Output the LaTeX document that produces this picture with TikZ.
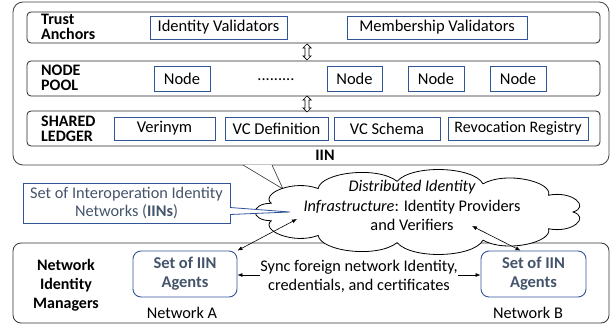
\documentclass[tikz,border=0pt]{standalone}
\usepackage{fontspec}
\setmainfont{Carlito}
\usetikzlibrary{arrows.meta}
\definecolor{bluebd}{HTML}{2F5597}
\definecolor{bluetx}{HTML}{44546A}
\tikzset{
  rowbox/.style={draw=black!85, line width=0.8pt, rounded corners=4pt},
  itembox/.style={draw=bluebd, line width=0.8pt, font=\fontsize{16.5}{17}\selectfont, inner sep=0pt, anchor=center},
  rowlabel/.style={font=\bfseries\fontsize{16}{15}\selectfont, align=left, anchor=west, inner sep=0pt},
  agent/.style={draw=bluebd, line width=0.9pt, rounded corners=8pt, font=\bfseries\fontsize{16.5}{19}\selectfont, text=bluetx, align=center, inner sep=0pt},
  plain/.style={font=\fontsize{16.3}{19}\selectfont, inner sep=0pt, align=center},
  dbl/.style={{Latex[length=5pt,width=4pt]}-{Latex[length=5pt,width=4pt]}, line width=0.6pt},
}
\begin{document}
\begin{tikzpicture}[x=1pt,y=-1pt]
\useasboundingbox (0,0) rectangle (615,331);
% outer IIN box
\draw[line width=0.8pt, draw=black!75, rounded corners=10pt] (13,2) rectangle (609,165);
\node[font=\bfseries\fontsize{16}{16}\selectfont, inner sep=0pt] (iin) at (325,155.5) {IIN};
% rows
\draw[rowbox] (27,12) rectangle (600,43);
\draw[rowbox] (27,61) rectangle (600,96);
\draw[rowbox] (27,111) rectangle (600,146);
\node[rowlabel] (ta) at (41,27) {Trust\\Anchors};
\node[rowlabel] (np) at (41,78) {NODE\\POOL};
\node[rowlabel] (sl) at (41,128.5) {SHARED\\LEDGER};
% trust anchors items
\node[itembox, minimum width=137pt, minimum height=23pt] (iv) at (218.5,27.5) {Identity Validators};
\node[itembox, minimum width=180pt, minimum height=23pt] (mv) at (437,27.5) {Membership Validators};
% node pool
\node[itembox, minimum width=56pt, minimum height=25pt] (n1) at (182,78.5) {Node};
\node[plain] (dots) at (276,79.5) {.........};
\node[itembox, minimum width=55pt, minimum height=25pt] (n2) at (354.5,78.5) {Node};
\node[itembox, minimum width=56pt, minimum height=25pt] (n3) at (436,78.5) {Node};
\node[itembox, minimum width=56pt, minimum height=25pt] (n4) at (518,78.5) {Node};
% shared ledger
\node[itembox, minimum width=101pt, minimum height=23pt] (ver) at (164.5,128.5) {Verinym};
\node[itembox, minimum width=103pt, minimum height=23pt] (vcd) at (276.5,128.5) {VC Definition};
\node[itembox, minimum width=106pt, minimum height=23pt] (vcs) at (387,128.5) {VC Schema};
\node[itembox, minimum width=140pt, minimum height=23pt, font=\fontsize{16}{17}\selectfont] (rr) at (518,128.5) {Revocation Registry};
% fat double arrows between rows
\foreach \yy in {52,104}{
  \draw[line width=0.7pt, fill=white] (307,\yy-8) -- (311,\yy-4) -- (309,\yy-4) -- (309,\yy+4) -- (311,\yy+4) -- (307,\yy+8) -- (303,\yy+4) -- (305,\yy+4) -- (305,\yy-4) -- (303,\yy-4) -- cycle;
}
% bottom box
\draw[line width=0.8pt, draw=black!80, rounded corners=8pt] (13,243) rectangle (609,323);
\node[font=\bfseries\fontsize{16}{19}\selectfont, align=center, inner sep=0pt] (nim) at (66,285) {Network\\Identity\\Managers};
\node[agent, minimum width=104pt, minimum height=46pt] (aa) at (185,274) {Set of IIN\\Agents};
\node[agent, minimum width=105pt, minimum height=46pt] (ab) at (533.5,274) {Set of IIN\\Agents};
\node[plain] (na) at (182,313) {Network A};
\node[plain] (nb) at (528,313) {Network B};
\draw[dbl] (aa.east |- 0,275) -- (ab.west |- 0,275);
\node[plain, fill=white, inner ysep=1pt] (sync) at (359,276) {Sync foreign network Identity,\\credentials, and certificates};
% cloud wedge to IIN box
\coordinate (w1) at (243,165);
\coordinate (w2) at (272,165);
\coordinate (wt) at (283,189);
\fill[white] (w1) -- (wt) -- (w2) -- cycle;
\draw[line width=0.6pt, draw=black!80] (w1) -- (wt) -- (w2);
% cloud (custom bumpy outline)
\draw[line width=0.8pt, fill=white]
  ({419+154*cos(0)},{212+31*sin(0)})
  \foreach \a in {0,32.727,...,340} {
    .. controls ({419+172*cos(\a+6)},{212+48*sin(\a+6)}) and ({419+172*cos(\a+32.727-6)},{212+48*sin(\a+32.727-6)}) .. ({419+154*cos(\a+32.727)},{212+31*sin(\a+32.727)})
  } -- cycle;
\node[plain, font=\fontsize{16.3}{19.5}\selectfont] (clt) at (412,205.5) {\itshape Distributed Identity\\\itshape Infrastructure\upshape: Identity Providers\\and Verifiers};
% callout
\node[draw=bluebd, line width=0.8pt, font=\fontsize{16.3}{17.5}\selectfont, text=bluetx, align=center, minimum width=207pt, minimum height=40pt, inner sep=0pt] (co) at (126.5,203) {Set of Interoperation Identity\\Networks (\textbf{IINs})};
\coordinate (c1) at (230,207.5);
\coordinate (c2) at (230,214.5);
\coordinate (ct) at (290,212);
\fill[white] (c1) -- (ct) -- (c2) -- cycle;
\draw[line width=0.8pt, draw=bluebd] (c1) -- (ct) -- (c2);
% arrows cloud to agents
\coordinate (ca) at (297,219);
\coordinate (cb) at (472,226);
\draw[dbl] (ca) -- (aa.north east);
\draw[dbl] (cb) -- ([xshift=-13pt]ab.north);
\end{tikzpicture}
\end{document}
